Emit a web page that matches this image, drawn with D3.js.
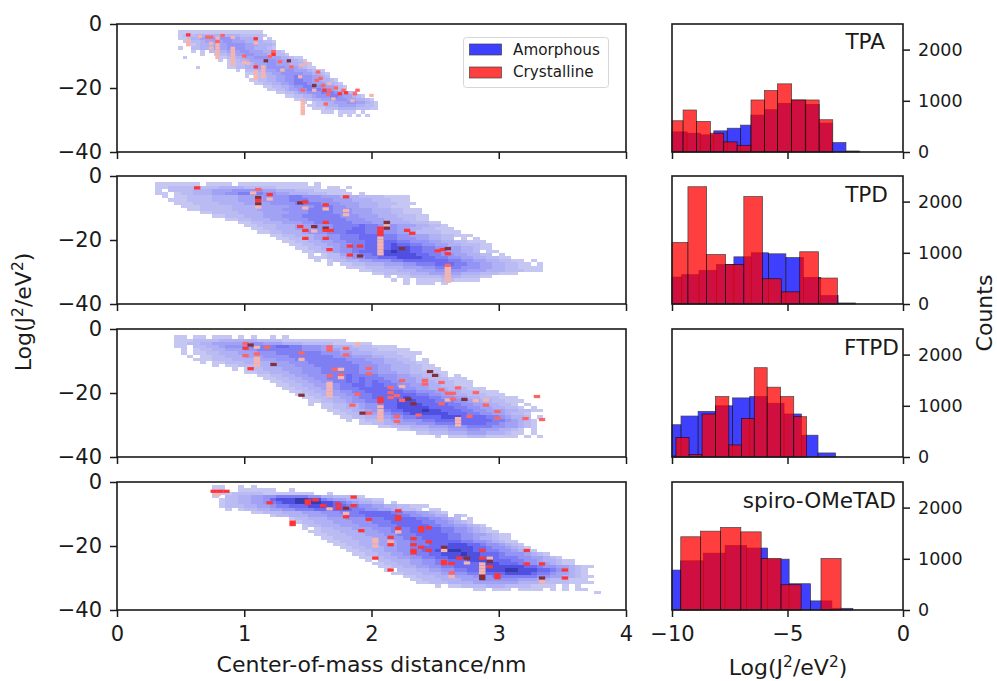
<!DOCTYPE html>
<html lang="en">

<head>
	<meta charset="utf-8">
	<title>Transfer integral vs center-of-mass distance</title>
	<script src="https://cdn.jsdelivr.net/npm/d3@7"></script>
	<style>
		html, body { margin: 0; padding: 0; background: #fff; }
		svg { display: block; }
		text { font-family: "DejaVu Sans", sans-serif; fill: #1a1a1a; }
		.heat { filter: blur(0.45px); }
	</style>
</head>

<body>
	<script>
		const molecules = ["TPA", "TPD", "FTPD", "spiro-OMeTAD"];
		const seriesNames = ["Amorphous", "Crystalline"];

		// 2D histogram rows of the amorphous set: [first column, density digit per column, 1 = faint, 9 = darkest]
		// row i sits one unit of Log(J2) below row i-1, space = empty bin
		const amorphousTPA = [
			[0, "1111111111111111111"],
			[0, "12223333333333222221"],
			[0, "1123344455554433322 1"],
			[1, "112234444554443333221"],
			[2, "11233344455554443332"],
			[0, "1  2233344455554433321"],
			[3, "1 1 22334445544433221"],
			[5, "1  12233445544433221"],
			[1, "1       1122334455544433211"],
			[9, "1 122334445554433321"],
			[11, "1122334445544433321"],
			[4, "1      11223344455554443211"],
			[13, "1 223344455554443211"],
			[15, "1122334455555443321"],
			[15, "1 12233445566554432"],
			[16, "11223344556655443321"],
			[17, "11223344566654443321"],
			[19, "1122334556665544321"],
			[20, "112234455666554321"],
			[22, "112234455566654322"],
			[24, "112233455566544321"],
			[26, "112233445555443321"],
			[28, "1 122334445544321"],
			[29, "1122333444433221"],
			[30, "111222333322211"],
			[32, "111 1111 1"],
			[36, "1 1 1 1"]
		];
		const amorphousTPD = [
			[0, "1111111 1111 11111111111 1"],
			[0, "11222222223333222221111111 11 1"],
			[0, "1 2222333444555554433322211111"],
			[0, "11 1223334455666655443332221111 1"],
			[1, "1 1122223333444455556655544433322221111"],
			[2, "11122223333444455556665555444333222111"],
			[3, "11122223333444455556666555444333222111"],
			[4, "111222223333444445555666554433322111"],
			[5, "1122222333344445555666655544433322111"],
			[7, "11222233334444555666655544433322111"],
			[9, "1122233344455566666655544433322211"],
			[11, "11223334445556666665554443332211"],
			[13, "11223334445566666655544433322211"],
			[14, "11222333444555666676655544433221"],
			[15, "11223334445556667766555443322111"],
			[16, "11223334555666777665554432222111"],
			[18, "11223334455666777766554443322111"],
			[19, "1122334455666777766555443322 1 1"],
			[20, "11223344556667777766555443322111"],
			[21, "11223344556677778776655443322211"],
			[22, "1122334556677778887766554433211"],
			[23, "1122345567778898877665544332 11"],
			[24, "1 122445667788888776655443322 1"],
			[24, "11122345566777888877665544332211"],
			[25, "1 1223344555667777777665544332211 1"],
			[27, "1 112233344455666777665544332211 1"],
			[30, "1112223334445566665554433221111"],
			[32, "11222233344455555444333222111"],
			[34, "11222233344444333222111"],
			[36, "1 112222233322211"],
			[37, "1 1 1111221111"],
			[39, "1 111 1"]
		];
		const amorphousFTPD = [
			[1, "11 11 111 1 1  1 1"],
			[1, "111222233333322221111111111"],
			[1, "1122334444445544433322222111111"],
			[1, "11 22334555566667766555443332221111"],
			[2, "1 1223344455666666655544433322211111"],
			[2, "1 112233344455566666665554433322221111"],
			[3, "1 1122333444555566666665554443322211"],
			[4, "11122233334445556666666655544433221 1"],
			[5, "1 1122233334445556666666555443332211"],
			[7, "1 112223334445556666666555443332211"],
			[10, "1 1223334445556666665554433322111"],
			[12, "11223334455566666655544433222111"],
			[14, "112233445556667666655544332221 1"],
			[15, "11223344556667676665544433222111"],
			[16, "11223344556676767665544333222111"],
			[17, "1122334455667767766554443322111"],
			[18, "11223344566677777665544333222111"],
			[19, "112233445566777777665554433222111"],
			[20, "112233445566777777766554433222111"],
			[21, "1122334456677777877766554433222111"],
			[22, "1122334556677788877766655443322111"],
			[22, "1 1122334556778888777766554433221 1"],
			[24, "11223345567788888777766554433221 1"],
			[25, "1122334556778889887776655444332211"],
			[26, "1122334556678888887776655443221"],
			[27, "112233445566777788877776654332 1"],
			[28, "1 1223344555667777777776654321"],
			[30, "1122334445556667777766544321"],
			[33, "1122233344455566665544321"],
			[36, "11222333444554443321 1"],
			[39, "11222333444333211 1"],
			[42, "1 11122211111 1 1"]
		];
		const amorphousSpiro = [
			[1, "11  1 1"],
			[1, "11  111111  1"],
			[1, "1112222211111111  1"],
			[1, "1 2233445566666553322211"],
			[2, "12233445788899886544332211"],
			[2, "12233445678899998876543322 1"],
			[2, "122233445667778888776655443322111"],
			[3, "1 12233445566677777766554433221 11"],
			[7, "1122233344455566677777665544321"],
			[10, "1223334445556667777766554433 21"],
			[13, "122333444555666777776655432 1"],
			[14, "1223334445556667777766554321"],
			[15, "12233344455566677777665544321"],
			[15, "1 1223334445556667777766554321"],
			[16, "112223334445566677777665543211"],
			[17, "1122233344455666777776655443211"],
			[18, "112223334445566677776655433211"],
			[19, "112223334445566677777665543211"],
			[20, "112233344455666777888776554321"],
			[21, "112233344556677788888776554321"],
			[22, "112233445566778899887766554321"],
			[23, "1122334455667788898877765554321"],
			[24, "11223344556677888887776665544321"],
			[25, "1 2233344556677788887776655433211"],
			[26, "11223344556677777888777655443211"],
			[27, "1122334455667777778888877655443211"],
			[28, "1 222334455667778889988877654321"],
			[29, "1122233344556677778888766544321"],
			[31, "112223334445556666666554433211"],
			[32, "1122233344455555544433222111"],
			[33, "1122233334444444333322221111"],
			[36, "1 11222233322221111 1 1"],
			[42, "11 111 1111 1 1 11"],
			[60, " 1"]
		];

		// crystalline cells: [distance in nm, Log(J2), level 1 pale .. 4 dark]
		const crystallineTPA = [
			[.56, -3.4, 3], [.56, -5, 1], [.56, -6, 1], [.56, -6.5, 1], [.65, -3.9, 1], [.71, -4.1, 2], [.74, -4.1, 2], [.74, -6, 1], [.74, -7.5, 1],
			[.79, -4.4, 1], [.79, -5.5, 2], [.79, -6.5, 1], [.79, -7.5, 1], [.79, -8.5, 1], [.79, -9.5, 1], [.79, -10.5, 1], [.83, -3.6, 2],
			[.91, -4.2, 1], [.91, -7.6, 1], [.91, -8.6, 1], [.91, -9.6, 1], [.91, -10.6, 1], [.91, -11.6, 1], [.91, -12.6, 1],
			[1.09, -4.6, 3], [1.09, -6, 1], [1, -10, 2], [1, -12, 1], [1.03, -12.3, 1], [1.09, -13.4, 3], [1.09, -15, 1], [1.09, -16, 1], [1.09, -17, 1],
			[1.15, -13.4, 1], [1.15, -14.4, 1], [1.15, -15.4, 1], [1.15, -16.4, 1], [1.17, -11.5, 4], [1.23, -8.6, 2], [1.23, -9.5, 3], [1.2, -10.2, 2],
			[1.28, -11.8, 2], [1.35, -11.5, 4], [1.3, -14.4, 1], [1.37, -13.4, 2], [1.44, -16.5, 1], [1.45, -12.8, 1], [1.49, -12.3, 1],
			[1.46, -20.7, 2], [1.46, -24, 1], [1.46, -25, 1], [1.46, -26, 1], [1.46, -27, 1], [1.46, -28, 1], [1.55, -19.2, 4], [1.58, -15, 2], [1.6, -17, 2],
			[1.63, -20.7, 3], [1.64, -25, 2], [1.67, -20.7, 2], [1.55, -20.7, 1], [1.75, -21.8, 3], [1.72, -20, 2], [1.78, -20.7, 2], [1.87, -21.8, 2],
			[1.89, -20.7, 2], [1.85, -24, 1], [1.7, -23.4, 1], [1.57, -17.6, 2], [1.62, -19.2, 2], [1.67, -18.6, 1], [2, -22.3, 1], [1.8, -21.5, 3], [1.66, -22, 2]
		];
		const crystallineTPD = [
			[.63, -3.7, 3], [1.11, -4.2, 2], [1.07, -5.3, 1], [1.11, -6.7, 4], [1.11, -7.6, 3], [1.11, -8.7, 4], [1.11, -9.7, 1], [1.2, -5.8, 3], [1.2, -7.2, 1],
			[1.44, -8.4, 4], [1.48, -8.1, 3], [1.48, -10, 1], [1.64, -9, 3], [1.64, -10.3, 1], [1.8, -6.5, 3], [1.8, -10.8, 1], [1.8, -12.1, 1],
			[1.64, -14.5, 3], [1.44, -15.8, 3], [1.48, -17, 3], [1.55, -15.8, 4], [1.55, -17.2, 1], [1.64, -16.3, 4], [1.64, -17, 3], [1.68, -17, 3],
			[1.48, -19.5, 3], [1.64, -19.5, 3], [1.67, -23, 3], [1.83, -21.9, 3], [1.91, -21.9, 3], [1.83, -24.7, 3], [1.91, -25, 4],
			[2.07, -16.3, 3], [2.07, -17.3, 3], [2.07, -18.2, 3], [2.07, -19.4, 1], [2.07, -20.4, 1], [2.07, -21.4, 1], [2.07, -22.4, 1], [2.07, -23.4, 1], [2.07, -24.3, 1],
			[2.12, -14.5, 4], [2.12, -15.6, 1], [2.12, -16.3, 4], [2.28, -17, 3], [2.32, -17.9, 3], [2.24, -22.7, 4], [2.52, -23.4, 3], [2.56, -23, 3], [2.6, -22.7, 4], [2.6, -24.3, 3],
			[2.6, -27.9, 2], [2.6, -28.9, 1], [2.6, -29.9, 1], [2.6, -30.9, 1], [2.6, -31.9, 1], [2.6, -32.9, 1]
		];
		const crystallineFTPD = [
			[1.01, -4.5, 2], [1.05, -5, 4], [1.01, -6, 3], [1.1, -5.7, 1], [1.18, -5.7, 2], [1.01, -8.3, 2], [1.1, -7.8, 2], [1.1, -9.2, 1], [1.1, -10.2, 1], [1.1, -11.3, 1],
			[1.05, -12.4, 3], [1.23, -11.1, 4], [1.45, -7.5, 2], [1.45, -9.5, 1], [1.67, -5.6, 2], [1.67, -6.6, 2], [1.8, -6.1, 2], [1.8, -8.1, 2], [1.89, -4.7, 1],
			[1.71, -12.6, 2], [1.76, -12.6, 1], [1.67, -14.6, 2], [1.76, -14.4, 2], [1.76, -15.2, 1], [1.98, -12.3, 2], [1.98, -14, 2],
			[1.67, -17, 1], [1.67, -18, 1], [1.67, -19, 1], [1.67, -20, 1], [1.67, -21, 1], [1.45, -20.7, 4], [1.89, -20.4, 2], [1.85, -23.8, 2], [1.93, -26.3, 4], [1.98, -26.3, 2],
			[2.07, -21.7, 3], [2.07, -22.7, 3], [2.07, -24.3, 1], [2.07, -25.5, 1], [2.07, -26.5, 1], [2.07, -27.5, 1], [2.07, -28.5, 1],
			[2.15, -18.3, 2], [2.15, -19.9, 2], [2.15, -21.4, 2], [2.2, -20.8, 2], [2.2, -27.3, 2], [2.2, -28.9, 2], [2.24, -16.1, 2], [2.24, -18, 1], [2.24, -22.3, 2],
			[2.29, -21.9, 4], [2.33, -23.4, 4], [2.37, -26.9, 2], [2.42, -16.1, 2], [2.42, -17.2, 2], [2.46, -13.3, 4], [2.5, -14.5, 4], [2.55, -16.7, 2], [2.55, -19, 2], [2.55, -23.4, 2],
			[2.6, -20.1, 2], [2.64, -20.1, 2], [2.6, -22.2, 1], [2.64, -21.9, 2], [2.68, -18.4, 2], [2.73, -22, 4], [2.82, -19.9, 2], [2.82, -22.4, 1], [2.9, -22.2, 1], [2.9, -23.8, 2],
			[2.68, -28, 1], [2.68, -29, 1], [2.68, -30, 1], [2.77, -27.3, 2], [2.99, -25.8, 2], [2.99, -27.9, 2], [3.21, -28, 2], [3.34, -28.3, 2], [3.3, -21.1, 2]
		];
		const crystallineSpiro = [
			[.76, -2.9, 3], [.81, -2.9, 3], [.86, -2.9, 3], [.79, -4, 1], [1.2, -6.5, 3], [1.5, -5.9, 3], [1.5, -6.7, 3], [1.56, -5.6, 3], [1.62, -7.4, 3], [1.67, -8.4, 1],
			[1.74, -6.9, 3], [1.74, -8.2, 3], [1.8, -8.2, 4], [1.8, -9.8, 1], [1.8, -10.9, 3], [1.86, -4.7, 3], [1.86, -7.4, 3], [1.98, -11.7, 3], [1.38, -12.5, 3], [1.38, -13.3, 3], [1.92, -15.2, 3],
			[2.21, -9, 3], [2.21, -10.8, 3], [2.21, -11.7, 3], [2.21, -14.5, 3], [2.21, -15.6, 1], [2.39, -14.3, 3], [2.45, -14.3, 3], [2.39, -15.3, 3],
			[2.03, -17.9, 1], [2.03, -18.7, 1], [2.03, -20, 1], [2.03, -23.8, 3], [2.15, -17.3, 3], [2.15, -18.7, 1], [2.15, -19.6, 3], [2.15, -27.5, 3],
			[2.33, -17.7, 3], [2.33, -19.6, 3], [2.33, -21.4, 3], [2.33, -22.2, 3], [2.39, -20.4, 3], [2.45, -18.7, 3], [2.45, -21.4, 3], [2.57, -20.4, 4], [2.57, -21.4, 1],
			[2.57, -24.8, 3], [2.57, -25.5, 3], [2.63, -25.5, 3], [2.63, -28.4, 2], [2.63, -29.6, 1], [2.69, -23.8, 3], [2.75, -23.8, 4], [2.75, -25.3, 1], [2.87, -21.4, 3], [2.87, -23.8, 3],
			[2.93, -23.8, 1], [2.93, -24.8, 4], [2.93, -26.5, 3], [2.87, -25.6, 1], [2.87, -26.6, 1], [2.87, -27.6, 1], [2.87, -28.6, 1], [2.87, -29.4, 4], [2.87, -30.2, 4],
			[2.99, -29, 3], [2.99, -29.9, 3], [3.22, -21.4, 3], [3.22, -25.6, 3], [3.34, -25.6, 3], [3.34, -30, 4], [3.34, -31.2, 1], [3.52, -27.5, 3], [3.52, -30, 3]
		];

		// 1D histograms: bin edges and counts
		const blueEdgesTPA = [-10, -9.35, -8.77, -8.19, -7.61, -7.03, -6.58, -6, -5.42, -4.84, -4.24, -3.63, -3.07, -2.47, -1.89];
		const blueCountsTPA = [393, 367, 334, 413, 465, 525, 721, 826, 951, 1016, 931, 564, 184, 20];
		const redEdgesTPA = [-10, -9.52, -8.94, -8.34, -7.76, -7.18, -6.58, -6, -5.43, -4.82, -4.21, -3.63, -3.04];
		const redCountsTPA = [610, 820, 597, 367, 197, 131, 1016, 1200, 1331, 1016, 1016, 630];

		const blueEdgesTPD = [-10, -9.58, -8.83, -8.08, -7.32, -6.57, -5.82, -5.07, -4.31, -3.56, -2.81, -2.06];
		const blueCountsTPD = [526, 572, 658, 770, 921, 1000, 980, 908, 520, 164, 20];
		const redEdgesTPD = [-10, -9.31, -8.5, -7.68, -6.89, -6.08, -5.27, -4.47, -3.66, -2.84];
		const redCountsTPD = [1204, 2290, 967, 770, 2099, 493, 237, 1020, 507];

		const blueEdgesFTPD = [-10, -9.61, -8.87, -8.12, -7.38, -6.63, -5.88, -5.15, -4.4, -3.68, -2.92];
		const blueCountsFTPD = [630, 800, 892, 1000, 1154, 1180, 1050, 840, 426, 79];
		const redEdgesFTPD = [-10, -9.83, -9.26, -8.7, -8.12, -7.54, -6.99, -6.44, -5.88, -5.3, -4.73, -4.17];
		const redCountsFTPD = [20, 380, 46, 840, 1180, 236, 754, 1744, 1364, 1180, 787];

		const blueEdgesSpiro = [-10, -9.62, -8.64, -7.7, -6.77, -5.86, -4.93, -4, -3.08, -2.17];
		const blueCountsSpiro = [780, 960, 1110, 1260, 1210, 993, 513, 178, 33];
		const redEdgesSpiro = [-9.62, -8.77, -7.9, -7.02, -6.14, -5.28, -4.41, -3.55, -2.68];
		const redCountsSpiro = [1430, 1540, 1612, 1526, 1007, 493, 0, 1007];

		const xTicksLeft = [0, 1, 2, 3, 4];
		const yTicksLeft = [0, -20, -40];
		const xTicksRight = [-10, -5, 0];
		const yTicksRight = [0, 1000, 2000];

		// per panel bits
		const heatRows = [amorphousTPA, amorphousTPD, amorphousFTPD, amorphousSpiro];
		const heatCells = [crystallineTPA, crystallineTPD, crystallineFTPD, crystallineSpiro];
		const binStart = [.48, .3, .4, .7];
		const binWidth = [.035, .05, .05, .05];
		const rowStart = [-2, -2, -2, -1];
		const blueEdges = [blueEdgesTPA, blueEdgesTPD, blueEdgesFTPD, blueEdgesSpiro];
		const blueCounts = [blueCountsTPA, blueCountsTPD, blueCountsFTPD, blueCountsSpiro];
		const redEdges = [redEdgesTPA, redEdgesTPD, redEdgesFTPD, redEdgesSpiro];
		const redCounts = [redCountsTPA, redCountsTPD, redCountsFTPD, redCountsSpiro];

		var w = 997;
		var h = 681;
		var panelTop = [24, 176, 329, 482];
		var panelH = 128;
		var leftX = [117, 626];
		var rightX = [672, 903];
		var labelPos = [
			{ x: 885, y: 49 },
			{ x: 888, y: 202 },
			{ x: 899, y: 355 },
			{ x: 896, y: 508 }
		];

		const blueScale = d3.scaleLinear()
			.domain([1, 3, 5, 7, 8, 9])
			.range(["#c6c6f2", "#b0b0f4", "#9494f6", "#6a6af2", "#4f4fe0", "#3a3ab0"]);
		const redLevel = ["", "#f6b4ae", "#ff6464", "#ff3434", "#82303a"];

		const svg = d3.select("body").append("svg")
			.attr("width", w)
			.attr("height", h);

		const xLeft = d3.scaleLinear().domain([0, 4]).range(leftX);
		const xRight = d3.scaleLinear().domain([-10, 0]).range(rightX);

		molecules.forEach(function (name, i) {
			const top = panelTop[i];
			const yLeft = d3.scaleLinear().domain([-40, 0]).range([top + panelH, top]);
			const yRight = d3.scaleLinear().domain([0, 2500]).range([top + panelH, top]);

			// left: 2D histogram
			const heat = svg.append("g").attr("class", "heat");
			const cells = [];
			heatRows[i].forEach(function (row, r) {
				row[1].split("").forEach(function (c, k) {
					if (c !== " ") cells.push({ col: row[0] + k, row: r, level: +c });
				});
			});
			heat.selectAll(".blue").data(cells).enter().append("rect")
				.attr("class", "blue")
				.attr("x", d => xLeft(binStart[i] + d.col * binWidth[i]))
				.attr("y", d => yLeft(rowStart[i] - d.row))
				.attr("width", xLeft(binWidth[i]) - xLeft(0))
				.attr("height", yLeft(-1) - yLeft(0))
				.attr("shape-rendering", "crispEdges")
				.attr("fill", d => blueScale(d.level));
			heat.selectAll(".red").data(heatCells[i]).enter().append("rect")
				.attr("class", "red")
				.attr("x", d => xLeft(d[0] - binWidth[i] * .5))
				.attr("y", d => yLeft(d[1] + .5))
				.attr("width", xLeft(binWidth[i]) - xLeft(0))
				.attr("height", yLeft(-1) - yLeft(0))
				.attr("fill", d => redLevel[d[2]]);

			// right: two overlaid histograms
			const hist = svg.append("g");
			function drawHist(edges, counts, colour) {
				hist.selectAll(null).data(counts).enter().append("rect")
					.attr("x", (d, k) => xRight(edges[k]))
					.attr("y", d => yRight(d))
					.attr("width", (d, k) => xRight(edges[k + 1]) - xRight(edges[k]))
					.attr("height", d => yRight(0) - yRight(d))
					.attr("fill", colour)
					.attr("stroke", "#000")
					.attr("stroke-width", .7)
					.attr("opacity", .75);
			}
			drawHist(blueEdges[i], blueCounts[i], "#0000ff");
			drawHist(redEdges[i], redCounts[i], "#ff0000");

			svg.append("text")
				.attr("x", labelPos[i].x)
				.attr("y", labelPos[i].y)
				.attr("text-anchor", "end")
				.attr("font-size", "21.6px")
				.text(name);

			// axes
			const isLast = i === molecules.length - 1;
			const axBottomLeft = svg.append("g")
				.attr("transform", `translate(0,${top + panelH})`)
				.call(d3.axisBottom(xLeft).tickValues(xTicksLeft).tickSize(7).tickPadding(9)
					.tickFormat(isLast ? d3.format("d") : ""));
			const axLeft = svg.append("g")
				.attr("transform", `translate(${leftX[0]},0)`)
				.call(d3.axisLeft(yLeft).tickValues(yTicksLeft).tickSize(7).tickPadding(8).tickFormat(d3.format("d")));
			const axBottomRight = svg.append("g")
				.attr("transform", `translate(0,${top + panelH})`)
				.call(d3.axisBottom(xRight).tickValues(xTicksRight).tickSize(7).tickPadding(9)
					.tickFormat(isLast ? d3.format("d") : ""));
			const axRight = svg.append("g")
				.attr("transform", `translate(${rightX[1]},0)`)
				.call(d3.axisRight(yRight).tickValues(yTicksRight).tickSize(7).tickPadding(8).tickFormat(d3.format("d")));

			[axBottomLeft, axLeft, axBottomRight, axRight].forEach(function (ax) {
				ax.select(".domain").remove();
				ax.selectAll("line").attr("stroke", "#1a1a1a").attr("stroke-width", 1.5);
			});
			[axBottomLeft, axLeft, axBottomRight].forEach(ax => ax.selectAll("text").attr("font-size", "21px").style("font-family", "'DejaVu Sans'"));
			axRight.selectAll("text").attr("font-size", "17.5px").style("font-family", "'DejaVu Sans'");

			[leftX, rightX].forEach(function (xr) {
				svg.append("rect")
					.attr("x", xr[0])
					.attr("y", top)
					.attr("width", xr[1] - xr[0])
					.attr("height", panelH)
					.attr("fill", "none")
					.attr("stroke", "#1a1a1a")
					.attr("stroke-width", 1.6);
			});
		});

		// legend
		const legend = svg.append("g");
		legend.append("rect")
			.attr("x", 463.5).attr("y", 37.5)
			.attr("width", 145).attr("height", 50)
			.attr("rx", 3)
			.attr("fill", "#fff")
			.attr("stroke", "#d6d6d6");
		seriesNames.forEach(function (s, i) {
			legend.append("rect")
				.attr("x", 469.5).attr("y", 44 + i * 23)
				.attr("width", 32).attr("height", 11)
				.attr("fill", i ? "#ff0000" : "#0000ff")
				.attr("stroke", "#000")
				.attr("stroke-width", .7)
				.attr("opacity", .75);
			legend.append("text")
				.attr("x", 513).attr("y", 55 + i * 22)
				.attr("font-size", "15.2px")
				.text(s);
		});

		// axis titles
		function logLabel(sel) {
			sel.append("tspan").text("Log(J");
			sel.append("tspan").attr("dy", -8).attr("font-size", "15.4px").text("2");
			sel.append("tspan").attr("dy", 8).text("/eV");
			sel.append("tspan").attr("dy", -8).attr("font-size", "15.4px").text("2");
			sel.append("tspan").attr("dy", 8).text(")");
		}
		svg.append("text")
			.attr("x", 371.5).attr("y", 672)
			.attr("text-anchor", "middle")
			.attr("font-size", "22px")
			.text("Center-of-mass distance/nm");
		svg.append("text")
			.attr("x", 788).attr("y", 675)
			.attr("text-anchor", "middle")
			.attr("font-size", "22px")
			.call(logLabel);
		svg.append("text")
			.attr("transform", "translate(31,312) rotate(-90)")
			.attr("text-anchor", "middle")
			.attr("font-size", "22px")
			.call(logLabel);
		svg.append("text")
			.attr("transform", "translate(992,313) rotate(-90)")
			.attr("text-anchor", "middle")
			.attr("font-size", "22px")
			.text("Counts");
	</script>
</body>

</html>
